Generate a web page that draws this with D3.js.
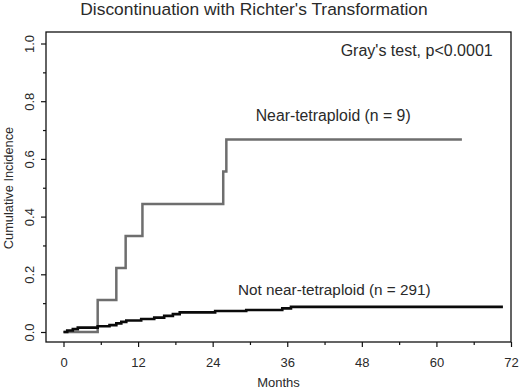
<!DOCTYPE html>
<html lang='en'>

<head>
   <meta charset='UTF-8'>
   <title>Discontinuation with Richter's Transformation</title>
   <script src='https://d3js.org/d3.v7.min.js'></script>
   <style>
      body {
         margin: 0;
         background: #fff;
      }

      svg text {
         font-family: 'Liberation Sans', Arial, sans-serif;
         fill: #2a2a2a;
      }
   </style>
</head>

<body>
   <div id='svg-container'></div>
   <script>

      // near-tetraploid group (n = 9): event months and cumulative incidence
      const tetraMonths = [0, 5.5, 8.5, 10.0, 12.7, 25.7, 26.2, 64.1];
      const tetraValues = [0, 0.111, 0.222, 0.333, 0.444, 0.556, 0.667, 0.667];

      // not near-tetraploid group (n = 291)
      const otherMonths = [0, 0.6, 1.5, 2.3, 5.5, 7.4, 8.5, 9.3, 10.1, 12.5, 14.6, 16.2, 17.6, 18.7, 24.4, 29.4, 35.2, 36.6, 70.7];
      const otherValues = [0, 0.005, 0.010, 0.015, 0.020, 0.024, 0.030, 0.035, 0.040, 0.045, 0.050, 0.056, 0.062, 0.068, 0.073, 0.076, 0.082, 0.087, 0.087];

      const xMajorTicks = [0, 12, 24, 36, 48, 60, 72];
      const xMinorTicks = [6, 18, 30, 42, 54, 66];
      const yMajorTicks = [0, 0.2, 0.4, 0.6, 0.8, 1.0];
      const yMinorTicks = [0.1, 0.3, 0.5, 0.7, 0.9];

      const box = { left: 46, top: 32, right: 511, bottom: 342 };

      const svg = d3.select('#svg-container').append('svg').attr('width', 520).attr('height', 390);

      const x = d3.scaleLinear().domain([0, 72]).range([63.5, box.right]);
      const y = d3.scaleLinear().domain([0, 1]).range([332, 43.5]);

      // x axis: labelled ticks and short unlabelled ones
      svg.append('g').attr('transform', `translate(0, ${box.bottom})`)
         .call(d3.axisBottom(x).tickValues(xMajorTicks).tickSize(5).tickPadding(11).tickFormat(d3.format('d')));
      svg.append('g').attr('transform', `translate(0, ${box.bottom})`)
         .call(d3.axisBottom(x).tickValues(xMinorTicks).tickSize(3).tickFormat(''));

      // y axis, labels rotated like R's default
      const yAxis = svg.append('g').attr('transform', `translate(${box.left}, 0)`)
         .call(d3.axisLeft(y).tickValues(yMajorTicks).tickSize(5).tickFormat(d3.format('.1f')));
      svg.append('g').attr('transform', `translate(${box.left}, 0)`)
         .call(d3.axisLeft(y).tickValues(yMinorTicks).tickSize(3).tickFormat(''));

      yAxis.selectAll('text')
         .attr('x', 0).attr('y', 0).attr('dy', 0)
         .attr('text-anchor', 'middle')
         .attr('transform', 'translate(-12, 0) rotate(-90)');

      svg.selectAll('.domain').remove();
      svg.selectAll('.tick line').attr('stroke', '#111').attr('stroke-width', 1.2);
      svg.selectAll('.tick text').attr('font-size', '13px').style('font-family', "'Liberation Sans', Arial, sans-serif").attr('fill', '#2a2a2a');

      svg.append('rect')
         .attr('x', box.left).attr('y', box.top)
         .attr('width', box.right - box.left).attr('height', box.bottom - box.top)
         .attr('fill', 'none').attr('stroke', '#111').attr('stroke-width', 1.3);

      const step = d3.line()
         .curve(d3.curveStepAfter)
         .x(d => x(d[0]))
         .y(d => y(d[1]));

      svg.append('path')
         .datum(d3.zip(tetraMonths, tetraValues))
         .attr('fill', 'none')
         .attr('stroke', '#6e6e6e')
         .attr('stroke-width', 2.5)
         .attr('d', step);

      svg.append('path')
         .datum(d3.zip(otherMonths, otherValues))
         .attr('fill', 'none')
         .attr('stroke', '#0a0a0a')
         .attr('stroke-width', 2.6)
         .attr('d', step);

      // texts
      svg.append('text')
         .attr('x', 254).attr('y', 14.5)
         .attr('text-anchor', 'middle')
         .attr('font-size', '17.4px')
         .text("Discontinuation with Richter's Transformation");

      svg.append('text')
         .attr('x', 492.7).attr('y', 56)
         .attr('text-anchor', 'end')
         .attr('font-size', '16px')
         .text("Gray's test, p<0.0001");

      svg.append('text')
         .attr('x', 255.7).attr('y', 121)
         .attr('font-size', '15.8px')
         .text('Near-tetraploid (n = 9)');

      svg.append('text')
         .attr('x', 238).attr('y', 295)
         .attr('font-size', '15.3px')
         .text('Not near-tetraploid (n = 291)');

      svg.append('text')
         .attr('x', 278.5).attr('y', 387)
         .attr('text-anchor', 'middle')
         .attr('font-size', '13px')
         .text('Months');

      svg.append('text')
         .attr('transform', 'translate(13, 188) rotate(-90)')
         .attr('text-anchor', 'middle')
         .attr('font-size', '12.8px')
         .text('Cumulative Incidence');

   </script>
</body>

</html>
